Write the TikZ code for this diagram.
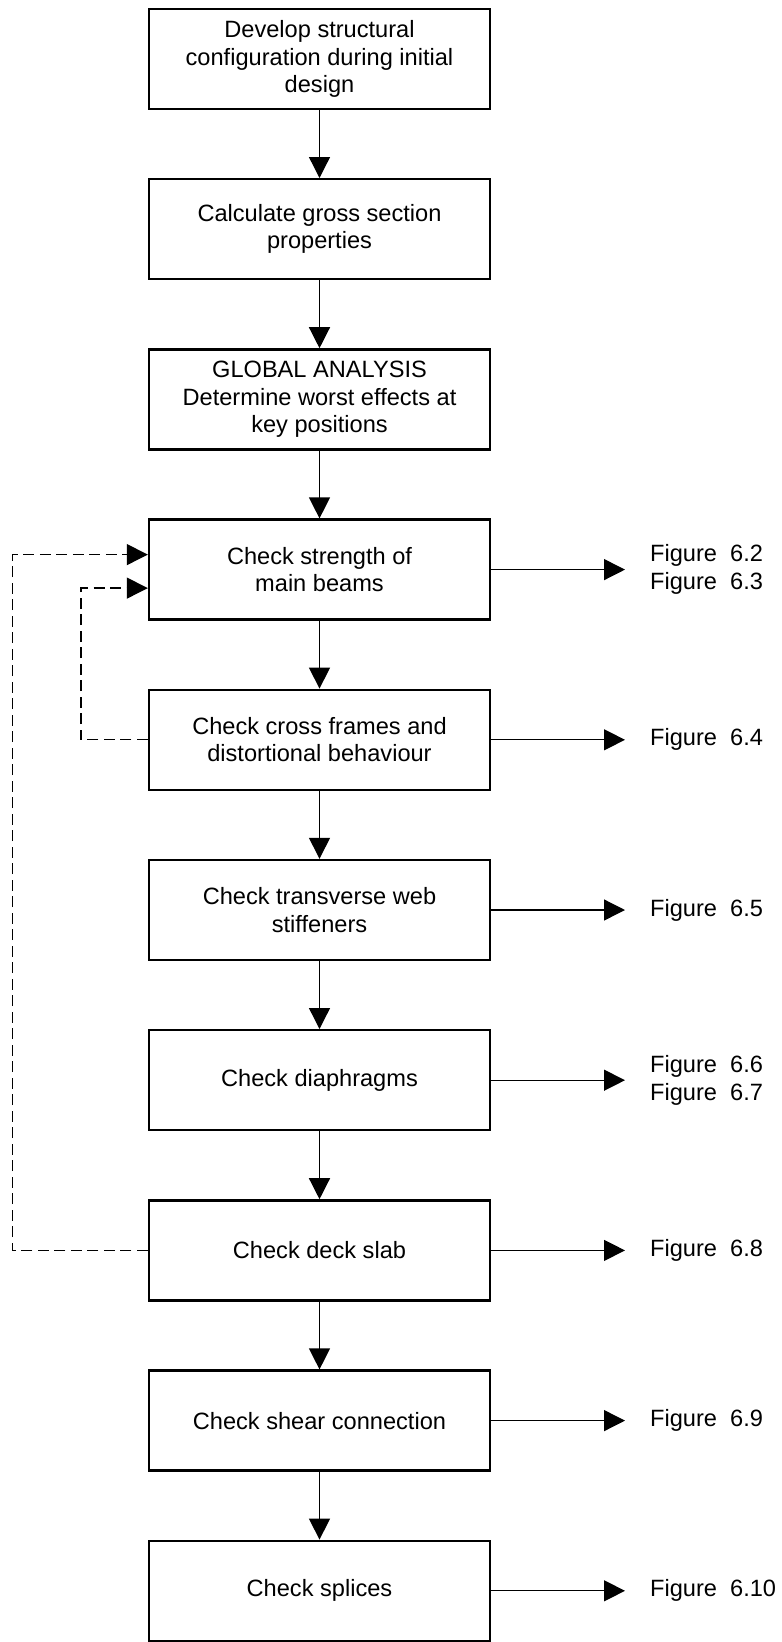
\documentclass[tikz,border=0pt]{standalone}
\usepackage{fontspec}
\setmainfont{Liberation Sans}
\usetikzlibrary{arrows.meta}

\begin{document}
\begin{tikzpicture}[x=1pt,y=-1pt,
  box/.style={draw,line width=2.4pt,minimum width=341pt,minimum height=100pt,
    inner sep=0pt,align=center,font=\fontsize{23.6pt}{27.3pt}\selectfont},
  figlbl/.style={anchor=west,inner xsep=25pt,inner ysep=0pt,align=left,
    font=\fontsize{23.6pt}{27.6pt}\selectfont},
  arr/.style={line width=1.3pt,-{Triangle[length=21pt,width=21pt]}},
  fb/.style={arr,dash pattern=on 11pt off 5.5pt}]
  \useasboundingbox (0,0) rectangle (782,1642);

  \node[box] (b1) at (319.5,59) {Develop structural\\configuration during initial\\design};
  \node[box] (b2) at (319.5,229.2) {Calculate gross section\\properties};
  \node[box] (b3) at (319.5,399.4) {GLOBAL ANALYSIS\\Determine worst effects at\\key positions};
  \node[box] (b4) at (319.5,569.6) {Check strength of\\main beams};
  \node[box] (b5) at (319.5,739.8) {Check cross frames and\\distortional behaviour};
  \node[box] (b6) at (319.5,910) {Check transverse web\\stiffeners};
  \node[box] (b7) at (319.5,1080.2) {Check diaphragms};
  \node[box] (b8) at (319.5,1250.4) {Check deck slab};
  \node[box] (b9) at (319.5,1420.6) {Check shear connection};
  \node[box] (b10) at (319.5,1590.8) {Check splices};

  % main flow
  \draw[arr] (b1) -- (b2);
  \draw[arr] (b2) -- (b3);
  \draw[arr] (b3) -- (b4);
  \draw[arr] (b4) -- (b5);
  \draw[arr] (b5) -- (b6);
  \draw[arr] (b6) -- (b7);
  \draw[arr] (b7) -- (b8);
  \draw[arr] (b8) -- (b9);
  \draw[arr] (b9) -- (b10);

  % references to figures
  \node[figlbl] (f4) at (625,569.6) {Figure\ \ 6.2\\Figure\ \ 6.3};
  \node[figlbl] (f5) at (625,739.8) {Figure\ \ 6.4};
  \node[figlbl] (f6) at (625,910) {Figure\ \ 6.5};
  \node[figlbl] (f7) at (625,1080.2) {Figure\ \ 6.6\\Figure\ \ 6.7};
  \node[figlbl] (f8) at (625,1250.4) {Figure\ \ 6.8};
  \node[figlbl] (f9) at (625,1420.6) {Figure\ \ 6.9};
  \node[figlbl] (f10) at (625,1590.8) {Figure\ \ 6.10};
  \draw[arr] (b4.east) -- (f4.west);
  \draw[arr] (b5.east) -- (f5.west);
  \draw[arr] (b6.east) -- (f6.west);
  \draw[arr] (b7.east) -- (f7.west);
  \draw[arr] (b8.east) -- (f8.west);
  \draw[arr] (b9.east) -- (f9.west);
  \draw[arr] (b10.east) -- (f10.west);

  % feedback loops
  \coordinate (loopA) at (12.7,0);
  \coordinate (loopB) at (81,0);
  \coordinate (in1) at ([yshift=15pt]b4.west);
  \coordinate (in2) at ([yshift=-18.5pt]b4.west);
  \draw[fb] (b8.west) -- (b8.west -| loopA) |- (in1);
  \draw[fb] (b5.west) -- (b5.west -| loopB) |- (in2);
\end{tikzpicture}
\end{document}
